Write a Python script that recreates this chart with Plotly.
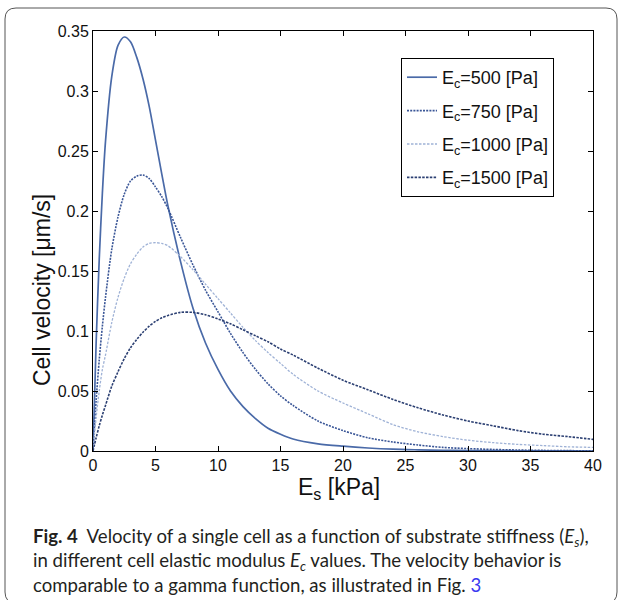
import plotly.graph_objects as go

# ---------------- data ----------------
E_S = [0, 0.25, 0.5, 0.75, 1, 1.5, 2, 2.5, 3, 3.5, 4, 4.5, 5, 5.5, 6, 7, 8, 9, 10,
       11, 12, 13, 14, 15, 16, 18, 20, 22, 24, 26, 28, 30, 32, 34, 36, 38, 40]

V_500 = [0, 0.09, 0.16, 0.215, 0.258, 0.312, 0.338, 0.345, 0.341, 0.328, 0.31, 0.287,
         0.259, 0.231, 0.204, 0.158, 0.119, 0.09, 0.068, 0.05, 0.037, 0.027, 0.019,
         0.014, 0.01, 0.006, 0.004, 0.0025, 0.0015, 0.001, 0.0006, 0.0004, 0.0003,
         0.0002, 0.0001, 0.0001, 0.0]

V_750 = [0, 0.042, 0.076, 0.104, 0.128, 0.168, 0.195, 0.214, 0.225, 0.229, 0.23, 0.227,
         0.22, 0.212, 0.202, 0.178, 0.155, 0.134, 0.116, 0.098, 0.082, 0.068, 0.056,
         0.046, 0.038, 0.025, 0.017, 0.011, 0.0075, 0.005, 0.003, 0.002, 0.0013,
         0.0008, 0.0005, 0.0003, 0.0002]

V_1000 = [0, 0.028, 0.05, 0.068, 0.08, 0.107, 0.128, 0.144, 0.156, 0.164, 0.17, 0.173,
          0.1736, 0.173, 0.171, 0.162, 0.151, 0.139, 0.127, 0.115, 0.103, 0.092, 0.082,
          0.073, 0.064, 0.05, 0.04, 0.031, 0.022, 0.016, 0.012, 0.009, 0.007, 0.0055,
          0.0045, 0.0035, 0.003]

V_1500 = [0, 0.011, 0.021, 0.03, 0.038, 0.054, 0.066, 0.077, 0.086, 0.093, 0.099, 0.104,
          0.108, 0.111, 0.113, 0.1155, 0.1155, 0.1135, 0.11, 0.106, 0.101, 0.096, 0.091,
          0.085, 0.08, 0.069, 0.059, 0.051, 0.043, 0.036, 0.03, 0.025, 0.021, 0.017,
          0.014, 0.012, 0.0097]

LEGEND_LABELS = ["E<sub>c</sub>=500 [Pa]", "E<sub>c</sub>=750 [Pa]",
                 "E<sub>c</sub>=1000 [Pa]", "E<sub>c</sub>=1500 [Pa]"]

X_TICKS = [0, 5, 10, 15, 20, 25, 30, 35, 40]
Y_TICKS = [0, 0.05, 0.1, 0.15, 0.2, 0.25, 0.3, 0.35]
Y_TICK_TEXT = ["0", "0.05", "0.1", "0.15", "0.2", "0.25", "0.3", "0.35"]

X_TITLE = "E<sub>s</sub> [kPa]"
Y_TITLE = "Cell velocity [\u03bcm/s]"

CAPTION = [
    "<b>Fig. 4</b>  Velocity of a single cell as a function of substrate stiffness (<i>E<sub>s</sub></i>),",
    "in different cell elastic modulus <i>E<sub>c</sub></i> values. The velocity behavior is",
    "comparable to a gamma function, as illustrated in Fig. <span style='color:#3a3af0'>3</span>",
]

# ---------------- layout geometry (pixels) ----------------
W, H = 622, 600
PL, PR, PT, PB = 93, 593, 31, 451   # plot area


def px(x):
    return (x - PL) / (PR - PL)


def py(y):
    return (PB - y) / (PB - PT)


series = [
    (V_500, "#4a6aa8", "solid", 1.7),
    (V_750, "#3a5697", "2px,1.2px", 1.6),
    (V_1000, "#9fb2d6", "2.5px,1.5px", 1.3),
    (V_1500, "#2b3f72", "2.5px,1.3px", 1.6),
]

fig = go.Figure()
for i, (vals, col, dash, w) in enumerate(series):
    fig.add_trace(go.Scatter(
        x=E_S, y=vals, mode="lines", name=LEGEND_LABELS[i],
        legendgroup=f"g{i}",
        line=dict(color=col, dash=dash, width=w, shape="spline", smoothing=0.8),
    ))

FONT = "Liberation Sans, Arial, sans-serif"
axis_font = dict(family=FONT, size=16, color="#111111")

fig.update_layout(
    width=W, height=H,
    margin=dict(l=PL, r=W - PR, t=PT, b=H - PB),
    paper_bgcolor="white", plot_bgcolor="white",
    showlegend=True,
    legend=dict(
        x=px(401), y=py(58), xanchor="left", yanchor="top",
        bgcolor="white", bordercolor="black", borderwidth=1,
        font=dict(family=FONT, size=18, color="#111111"),
        traceorder="grouped", tracegroupgap=7,
        itemwidth=30,
    ),
    xaxis=dict(
        range=[0, 40], tickvals=X_TICKS, ticktext=[str(t) for t in X_TICKS],
        showline=True, linecolor="black", linewidth=1, mirror="allticks",
        ticks="inside", ticklen=5, tickcolor="black", showgrid=False, zeroline=False,
        tickfont=axis_font,
    ),
    yaxis=dict(
        range=[0, 0.35], tickvals=Y_TICKS, ticktext=Y_TICK_TEXT,
        showline=True, linecolor="black", linewidth=1, mirror="allticks",
        ticks="inside", ticklen=5, tickcolor="black", showgrid=False, zeroline=False,
        tickfont=axis_font,
    ),
)

# axis titles
fig.add_annotation(text=X_TITLE, xref="paper", yref="paper", x=px(339), y=py(489),
                   xanchor="center", yanchor="middle", showarrow=False,
                   font=dict(family=FONT, size=23, color="#111111"))
fig.add_annotation(text=Y_TITLE, xref="paper", yref="paper", x=px(42), y=py(290),
                   xanchor="center", yanchor="middle", showarrow=False, textangle=-90,
                   font=dict(family=FONT, size=23, color="#111111"))

# caption
cap_font = dict(family="Lato, sans-serif", size=18.6, color="#231f20")
for k, (line, ycen) in enumerate(zip(CAPTION, [537, 561, 585])):
    fig.add_annotation(
        text=line, xref="paper", yref="paper", x=px(31), y=py(ycen),
        xanchor="left", yanchor="middle", showarrow=False, font=cap_font, align="left",
    )

# rounded outer frame
x0, x1, y0, y1 = 5, 617, 8, 603
r = 11
path = (
    f"M {px(x0 + r)},{py(y0)} L {px(x1 - r)},{py(y0)} "
    f"Q {px(x1)},{py(y0)} {px(x1)},{py(y0 + r)} "
    f"L {px(x1)},{py(y1 - r)} Q {px(x1)},{py(y1)} {px(x1 - r)},{py(y1)} "
    f"L {px(x0 + r)},{py(y1)} Q {px(x0)},{py(y1)} {px(x0)},{py(y1 - r)} "
    f"L {px(x0)},{py(y0 + r)} Q {px(x0)},{py(y0)} {px(x0 + r)},{py(y0)} Z"
)
fig.add_shape(type="path", path=path, xref="paper", yref="paper",
              line=dict(color="#555555", width=1), layer="below")

fig.write_html("out.html", config={"displayModeBar": False},
               post_script="document.body.style.margin='0';document.body.style.overflow='hidden';")
